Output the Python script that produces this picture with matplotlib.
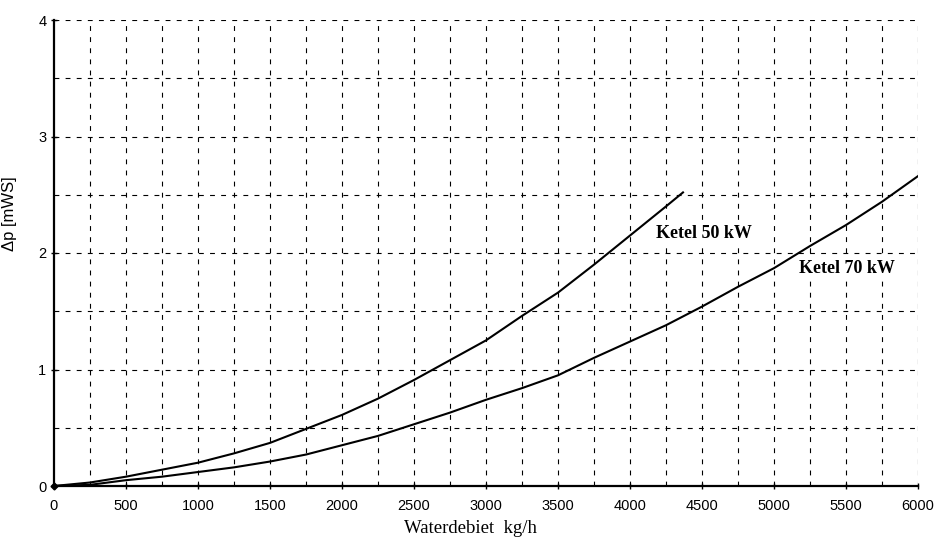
import numpy as np
import matplotlib
matplotlib.use('Agg')
import matplotlib.pyplot as plt

# flow in kg/h, pressure drop in mWS
flow_50 = [0, 250, 500, 750, 1000, 1250, 1500, 1750, 2000, 2250, 2500, 2750, 3000,
           3250, 3500, 3750, 4000, 4250, 4368]
dp_50 = [0, 0.03, 0.08, 0.14, 0.20, 0.28, 0.37, 0.49, 0.61, 0.75, 0.91, 1.08, 1.25,
         1.46, 1.66, 1.90, 2.15, 2.40, 2.52]

flow_70 = [0, 250, 500, 750, 1000, 1250, 1500, 1750, 2000, 2250, 2500, 2750, 3000,
           3250, 3500, 3750, 4000, 4250, 4500, 4750, 5000, 5250, 5500, 5750, 6000]
dp_70 = [0, 0.01, 0.05, 0.08, 0.12, 0.16, 0.21, 0.27, 0.35, 0.43, 0.53, 0.63, 0.74,
         0.84, 0.95, 1.10, 1.24, 1.38, 1.54, 1.71, 1.87, 2.06, 2.24, 2.44, 2.66]

labels = ['Ketel 50 kW', 'Ketel 70 kW']
label_pos = [(4180, 2.17), (5175, 1.87)]

plt.rcParams['font.family'] = 'Liberation Sans'
plt.rcParams['lines.scale_dashes'] = False

fig = plt.figure(figsize=(9.39, 5.40), dpi=100)
ax = fig.add_axes([54/939, 54/540, 864/939, 466/540])

ax.set_xlim(0, 6000)
ax.set_ylim(0, 4)

# dashed grid, also stands in for the top and right edges
for gx in np.arange(250, 6001, 250):
    ax.axvline(gx, color='black', lw=0.8, ls=(0, (3.5, 4.5)), zorder=1)
for gy in np.arange(0.5, 4.01, 0.5):
    ax.axhline(gy, color='black', lw=0.8, ls=(0, (3.5, 4.5)), zorder=1)

ax.plot(flow_50, dp_50, color='black', lw=1.5, zorder=3)
ax.plot(flow_70, dp_70, color='black', lw=1.5, zorder=3)
ax.plot([0], [0], 'kD', ms=3.5, zorder=4, clip_on=False)

for txt, (tx, ty) in zip(labels, label_pos):
    ax.text(tx, ty, txt, family='Liberation Serif', fontweight='bold',
            fontsize=13, ha='left', va='center', zorder=2,
            bbox=dict(facecolor='white', edgecolor='none', pad=1.0))

ax.spines['top'].set_visible(False)
ax.spines['right'].set_visible(False)
ax.spines['left'].set_linewidth(1.6)
ax.spines['bottom'].set_linewidth(1.6)
ax.spines['left'].set_zorder(4)
ax.spines['bottom'].set_zorder(4)

ax.set_xticks(np.arange(0, 6001, 500))
ax.set_yticks([0, 1, 2, 3, 4])
ax.tick_params(direction='inout', length=5, width=1, labelsize=10.5, color='black')
ax.tick_params(axis='x', pad=7)
ax.tick_params(axis='y', pad=3)

ax.set_xlabel('Waterdebiet  kg/h', family='Liberation Serif', fontsize=13.5)
ax.xaxis.set_label_coords(0.4825, -0.073)
ax.set_ylabel('Δp [mWS]', fontsize=12)
ax.yaxis.set_label_coords(-0.043, 0.585)

fig.savefig('out.png', dpi=100)
